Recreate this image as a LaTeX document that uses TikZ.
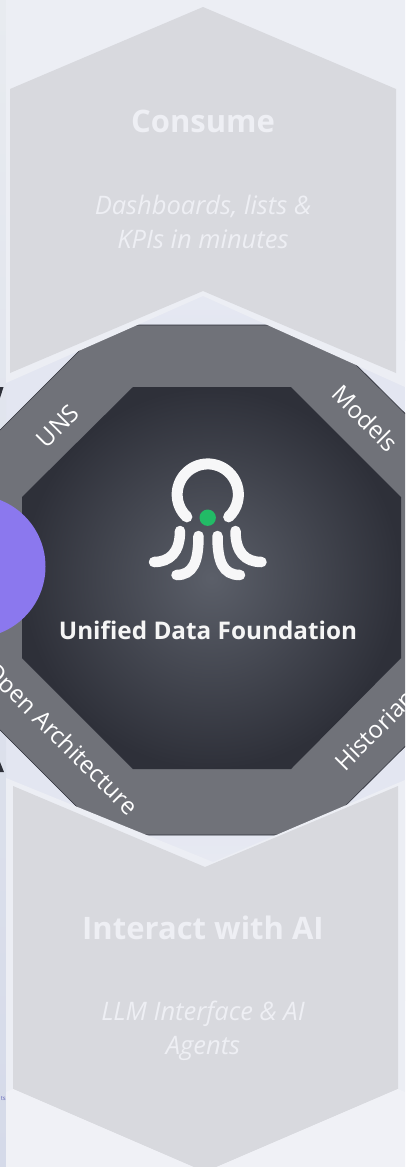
\documentclass[tikz,border=0pt]{standalone}
\usepackage{fontspec}
\setmainfont{Open Sans}
\definecolor{pagebg}{HTML}{F0F1F6}
\definecolor{glowbg}{HTML}{E3E6F1}
\definecolor{stripbg}{HTML}{D5DAE9}
\definecolor{stripup}{HTML}{E8EBF0}
\definecolor{bandcol}{HTML}{ECEEF4}
\definecolor{hexcol}{HTML}{D8D9DE}
\definecolor{hextext}{HTML}{EEEFF4}
\definecolor{ringcol}{HTML}{707279}
\definecolor{coreedge}{HTML}{2E3039}
\definecolor{coremid}{HTML}{5B5F69}
\definecolor{purple}{HTML}{8B78EE}
\definecolor{dotgreen}{HTML}{22BB66}
\definecolor{logowhite}{HTML}{F7F7F8}
\begin{document}
\begin{tikzpicture}[x=1pt, y=-1pt]
        \tikzstyle{hexa} = [fill=hexcol]
        \tikzstyle{band} = [fill=bandcol]
        \tikzstyle{title} = [text=hextext, font=\fontsize{31}{36}\selectfont\bfseries]
        \tikzstyle{note} = [text=hextext, align=center, font=\fontsize{25.5}{34}\selectfont\itshape]
        \tikzstyle{tag} = [text=white, font=\fontsize{24}{27}\selectfont]
        \tikzstyle{limb} = [draw=logowhite, line width=10.5pt, line cap=round]
        \useasboundingbox (0,0) rectangle (405,1167);
        \clip (0,0) rectangle (405,1167);
        % backdrop
        \fill[pagebg] (0,0) rectangle (405,1167);
        \shade[top color=pagebg, bottom color=glowbg] (0,120) rectangle (405,340);
        \fill[glowbg] (0,340) rectangle (405,800);
        \shade[top color=glowbg, bottom color=pagebg] (0,800) rectangle (405,1000);
        \shade[top color=stripup, bottom color=stripbg] (0,0) rectangle (6,1167);
        \fill[coreedge] (0,387) -- (3.5,387) -- (0,398) -- cycle;
        \fill[coreedge] (0,762) -- (4,772) -- (0,772) -- cycle;
        \node[text=black!35!stripbg!70!blue, font=\fontsize{6}{7}\selectfont, anchor=east, inner sep=0pt] (cut) at (6,1099) {ts};
        % ring and core
        \draw[fill=ringcol, draw=coreedge, line width=0.6pt]
                (105,325) -- (316,325) -- (466,474) -- (466,686) -- (316,835)
                -- (105,835) -- (-44,686) -- (-44,474) -- cycle;
        \shade[inner color=coremid, outer color=coreedge]
                (133,387) -- (291,387) -- (401,497) -- (401,658) -- (291,769)
                -- (133,769) -- (22,658) -- (22,497) -- cycle;
        \fill[purple] (-25.8,566.5) circle (71.3);
        % top panel
        \fill[band] (6,0) -- (405,0) -- (405,387) -- (203,296) -- (6,383) -- cycle;
        \fill[hexa] (10,89) -- (203,7) -- (396,89) -- (396,373) -- (203,291) -- (10,373) -- cycle;
        % bottom panel
        \fill[band] (6,778) -- (213,862) -- (405,780) -- (405,1092) -- (6,1092) -- cycle;
        \fill[hexa] (13,786) -- (205,867) -- (398,786) -- (398,1089) -- (205,1172) -- (13,1089) -- cycle;
        \fill[pagebg] (6,1092) -- (13,1089) -- (205,1172) -- (398,1089) -- (405,1092) -- (405,1167) -- (6,1167) -- cycle;
        % texts
        \node[title] (consume) at (203,121) {Consume};
        \node[note] (consumenote) at (203,222) {Dashboards, lists \&\\KPIs in minutes};
        \node[title] (interact) at (203,928) {Interact with AI};
        \node[note] (interactnote) at (203,1031) {LLM Interface \& AI\\Agents};
        \node[text=white!96!black, font=\fontsize{24.3}{30}\selectfont\bfseries] (core) at (208,630) {Unified Data Foundation};
        \node[tag, rotate=45] (uns) at (58,426) {UNS};
        \node[tag, rotate=-45] (models) at (365.5,418.5) {Models};
        \node[tag, rotate=45] (historian) at (375,730) {Historian};
        \node[tag, rotate=-45] (open) at (60,740) {Open Architecture};
        % logo
        \draw[limb, line width=11pt] (186.9,516.9) arc (133:407:30.6);
        \path[limb] (180,531) .. controls (180,552) and (170,562) .. (154,562);
        \path[limb] (198.5,536) .. controls (198.5,562) and (193,575) .. (176.5,575);
        \path[limb] (217.5,536) .. controls (217.5,562) and (223,575) .. (240,575);
        \path[limb] (235.5,531) .. controls (235.5,552) and (245,562) .. (261.5,562);
        \fill[dotgreen] (207.7,517.7) circle (8.2);
\end{tikzpicture}
\end{document}
